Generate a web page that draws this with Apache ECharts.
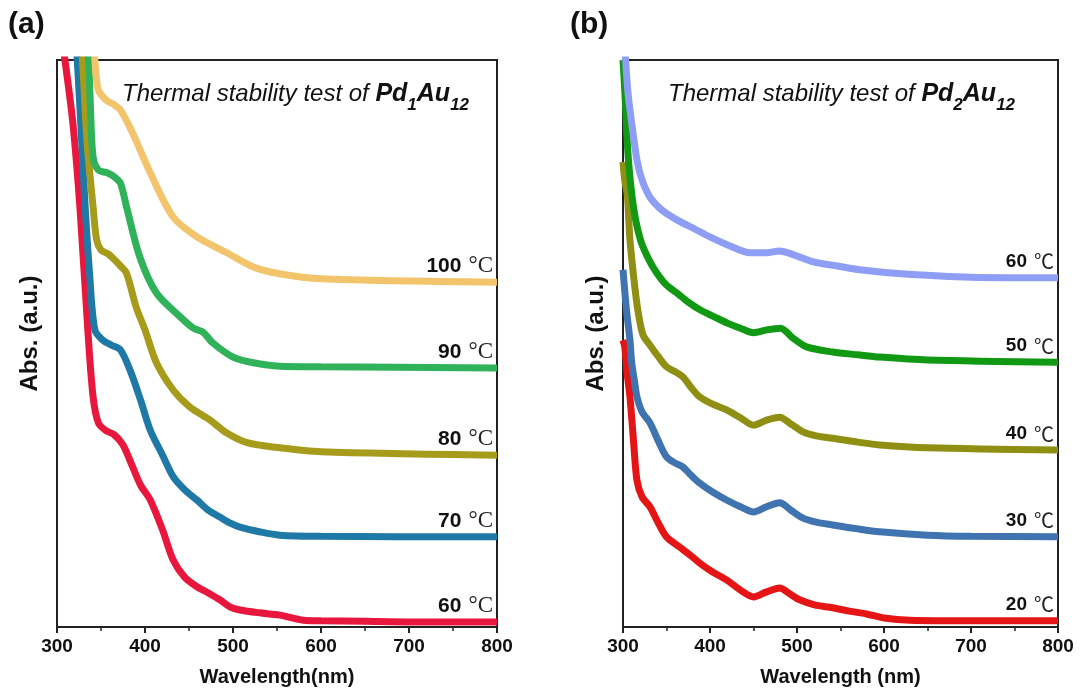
<!DOCTYPE html>
<html>
<head>
<meta charset="utf-8">
<script src="https://cdn.jsdelivr.net/npm/echarts@6/dist/echarts.min.js"></script>
<style>
html, body { margin: 0; background: #fff; }
#chart { width: 1088px; height: 693px; }
</style>
</head>
<body>
<div id="chart"></div>
<script>
// panel (a): Pd1Au12, wavelength (nm) and offset absorbance
var a60X = [304, 306, 309, 318, 326, 335, 341, 347, 355, 365, 375, 385, 395, 406, 420, 432, 445, 459, 472, 485, 497, 508, 530, 553, 580, 600, 650, 700, 800];
var a60Y = [10.6, 10.3, 10.0, 8.89, 7.41, 5.24, 4.06, 3.60, 3.47, 3.39, 3.21, 2.86, 2.50, 2.24, 1.71, 1.18, 0.88, 0.71, 0.60, 0.48, 0.35, 0.30, 0.25, 0.21, 0.12, 0.11, 0.10, 0.09, 0.09];
var a70X = [320, 323, 328, 332, 337, 343, 352, 362, 372, 383, 395, 406, 420, 432, 445, 459, 472, 485, 497, 508, 530, 553, 600, 800];
var a70Y = [10.6, 10.0, 8.59, 7.41, 6.24, 5.24, 5.06, 4.97, 4.89, 4.53, 4.00, 3.47, 3.03, 2.65, 2.42, 2.24, 2.06, 1.94, 1.83, 1.76, 1.68, 1.62, 1.60, 1.59];
var a80X = [326, 329, 334, 341, 345, 350, 358, 366, 372, 379, 390, 400, 413, 432, 451, 474, 493, 516, 553, 600, 800];
var a80Y = [10.6, 10.0, 8.59, 7.41, 6.83, 6.65, 6.58, 6.47, 6.37, 6.24, 5.64, 5.24, 4.66, 4.18, 3.88, 3.65, 3.42, 3.25, 3.16, 3.09, 3.03];
var a90X = [333, 336, 338, 341, 347, 357, 365, 372, 379, 394, 413, 440, 455, 466, 477, 500, 523, 553, 600, 800];
var a90Y = [10.6, 10.0, 9.17, 8.29, 8.06, 8.01, 7.94, 7.83, 7.41, 6.53, 5.89, 5.47, 5.27, 5.20, 5.01, 4.76, 4.66, 4.60, 4.59, 4.57];
var a100X = [340, 343, 347, 356, 364, 372, 386, 406, 432, 459, 493, 523, 553, 600, 800];
var a100Y = [10.6, 10.0, 9.47, 9.29, 9.22, 9.12, 8.71, 8.01, 7.23, 6.88, 6.60, 6.35, 6.23, 6.14, 6.08];

// panel (b): Pd2Au12
var b20X = [300, 302, 305, 308, 312, 316, 322, 331, 340, 350, 365, 377, 388, 403, 419, 435, 450, 465, 480, 492, 503, 520, 541, 560, 580, 600, 630, 700, 800];
var b20Y = [5.06, 4.94, 4.44, 4.06, 3.30, 2.59, 2.29, 2.12, 1.85, 1.59, 1.41, 1.27, 1.13, 0.97, 0.83, 0.65, 0.53, 0.62, 0.69, 0.58, 0.48, 0.39, 0.34, 0.28, 0.23, 0.16, 0.12, 0.11, 0.11];
var b30X = [300, 304, 308, 310, 313, 316, 322, 331, 340, 350, 360, 369, 378, 388, 403, 419, 435, 450, 465, 480, 493, 507, 522, 541, 570, 595, 650, 700, 800];
var b30Y = [6.3, 5.59, 5.06, 4.66, 4.36, 4.06, 3.79, 3.60, 3.30, 3.00, 2.89, 2.82, 2.68, 2.54, 2.38, 2.24, 2.12, 2.03, 2.12, 2.19, 2.06, 1.92, 1.85, 1.80, 1.73, 1.68, 1.62, 1.60, 1.59];
var b40X = [300, 302, 305, 308, 314, 318, 323, 331, 340, 350, 360, 369, 378, 388, 403, 419, 435, 450, 465, 480, 493, 507, 522, 541, 570, 595, 650, 800];
var b40Y = [8.2, 7.88, 7.62, 6.83, 5.94, 5.50, 5.15, 4.97, 4.78, 4.59, 4.50, 4.41, 4.23, 4.06, 3.93, 3.83, 3.69, 3.56, 3.65, 3.70, 3.58, 3.44, 3.37, 3.33, 3.26, 3.21, 3.16, 3.12];
var b50X = [300, 302, 306, 312, 320, 330, 339, 350, 362, 375, 389, 405, 420, 435, 450, 465, 481, 495, 511, 541, 570, 595, 650, 800];
var b50Y = [10.0, 9.47, 8.29, 7.41, 6.83, 6.47, 6.24, 6.03, 5.89, 5.73, 5.59, 5.47, 5.36, 5.27, 5.19, 5.24, 5.27, 5.10, 4.94, 4.85, 4.80, 4.76, 4.71, 4.67];
var b60X = [302, 303, 306, 310, 316, 322, 331, 345, 362, 380, 400, 423, 446, 465, 480, 497, 519, 545, 572, 620, 700, 800];
var b60Y = [10.4, 10.0, 9.38, 8.89, 8.24, 7.88, 7.58, 7.35, 7.18, 7.04, 6.88, 6.72, 6.60, 6.60, 6.63, 6.56, 6.44, 6.37, 6.30, 6.23, 6.17, 6.16];

var xTicks = [300, 400, 500, 600, 700, 800];

function zip(xs, ys) {
    return xs.map(function (x, i) { return [x, ys[i]]; });
}

function curve(idx, xs, ys, color, temp, cjk) {
    var last = [xs[xs.length - 1], ys[ys.length - 1]];
    return {
        type: 'line',
        xAxisIndex: idx,
        yAxisIndex: idx,
        data: zip(xs, ys),
        smooth: 0.3,
        showSymbol: false,
        lineStyle: { color: color, width: 7 },
        silent: true,
        markPoint: {
            symbolSize: 0,
            silent: true,
            data: [{ coord: last }],
            label: {
                show: true,
                position: 'left',
                distance: 4,
                offset: [0, -16],
                formatter: '{n|' + temp + '}{u|' + (cjk ? '℃' : '°C') + '}',
                rich: {
                    n: { fontFamily: 'Arial, Liberation Sans', fontWeight: 'bold', fontSize: cjk ? 19 : 21, color: '#111' },
                    u: cjk ? { fontFamily: 'Noto Sans CJK SC', fontSize: 20, color: '#222', padding: [0, 0, 0, 7] }
                           : { fontFamily: 'Liberation Serif, Times New Roman, serif', fontSize: 23, color: '#222', padding: [0, 0, 0, 7] }
                }
            }
        }
    };
}

function xAx(idx) {
    return {
        gridIndex: idx, type: 'value', min: 300, max: 800, interval: 100,
        name: idx === 0 ? 'Wavelength(nm)' : 'Wavelength (nm)',
        nameLocation: 'middle', nameGap: 40,
        nameTextStyle: { fontFamily: 'Arial, Liberation Sans', fontWeight: 'bold', fontSize: 20, color: '#111' },
        axisLine: { show: true, lineStyle: { color: '#222', width: 2 } },
        axisTick: { show: true, inside: false, length: 6, lineStyle: { color: '#222', width: 2 } },
        minorTick: { show: true, splitNumber: 2, length: 4, lineStyle: { color: '#222', width: 1.5 } },
        axisLabel: {
            fontFamily: 'Arial, Liberation Sans', fontWeight: 'bold', fontSize: 19, color: '#111', margin: 10,
            formatter: function (v) { return xTicks.indexOf(v) >= 0 ? String(v) : ''; }
        },
        splitLine: { show: false }
    };
}

function yAx(idx) {
    return {
        gridIndex: idx, type: 'value', min: 0, max: 10,
        name: 'Abs. (a.u.)', nameLocation: 'middle', nameGap: 15,
        nameTextStyle: { fontFamily: 'Arial, Liberation Sans', fontWeight: 'bold', fontSize: 24, color: '#111', padding: [0, 0, 0, 20] },
        axisLine: { show: true, lineStyle: { color: '#222', width: 2 } },
        axisTick: { show: false },
        axisLabel: { show: false },
        splitLine: { show: false }
    };
}

function titleText(n) {
    return '{t|Thermal stability test of }{b|Pd}{s|' + n + '}{b|Au}{s|12}';
}

var titleRich = {
    t: { fontFamily: 'Arial, Liberation Sans', fontStyle: 'italic', fontWeight: 'normal', fontSize: 24, color: '#111', verticalAlign: 'top' },
    b: { fontFamily: 'Arial, Liberation Sans', fontStyle: 'italic', fontWeight: 'bold', fontSize: 25, color: '#111', verticalAlign: 'top' },
    s: { fontFamily: 'Arial, Liberation Sans', fontStyle: 'italic', fontWeight: 'bold', fontSize: 17, color: '#111', lineHeight: 32, verticalAlign: 'bottom' }
};
var titleStyle = { fontSize: 24, rich: titleRich };

var option = {
    backgroundColor: '#fff',
    animation: false,
    title: [
        { text: '(a)', left: 8, top: 10, padding: 0, textStyle: { fontFamily: 'Arial, Liberation Sans', fontWeight: 'bold', fontSize: 30, color: '#111' } },
        { text: '(b)', left: 570, top: 10, padding: 0, textStyle: { fontFamily: 'Arial, Liberation Sans', fontWeight: 'bold', fontSize: 30, color: '#111' } },
        { text: titleText(1), left: 122, top: 82, padding: 0, textStyle: titleStyle },
        { text: titleText(2), left: 668, top: 82, padding: 0, textStyle: titleStyle }
    ],
    grid: [
        { left: 57, right: 591, top: 60, bottom: 66, show: true, borderColor: '#222', borderWidth: 2 },
        { left: 623, right: 30, top: 60, bottom: 66, show: true, borderColor: '#222', borderWidth: 2 }
    ],
    xAxis: [xAx(0), xAx(1)],
    yAxis: [yAx(0), yAx(1)],
    series: [
        curve(0, a60X, a60Y, '#e8173d', '60', false),
        curve(0, a70X, a70Y, '#1f79a7', '70', false),
        curve(0, a80X, a80Y, '#a79b1c', '80', false),
        curve(0, a90X, a90Y, '#2fb25a', '90', false),
        curve(0, a100X, a100Y, '#f2c46b', '100', false),
        curve(1, b20X, b20Y, '#e51515', '20', true),
        curve(1, b30X, b30Y, '#3f74b0', '30', true),
        curve(1, b40X, b40Y, '#8f8f14', '40', true),
        curve(1, b50X, b50Y, '#119914', '50', true),
        curve(1, b60X, b60Y, '#8f9ef5', '60', true)
    ]
};

var chart = echarts.init(document.getElementById('chart'));
chart.setOption(option);
</script>
</body>
</html>
